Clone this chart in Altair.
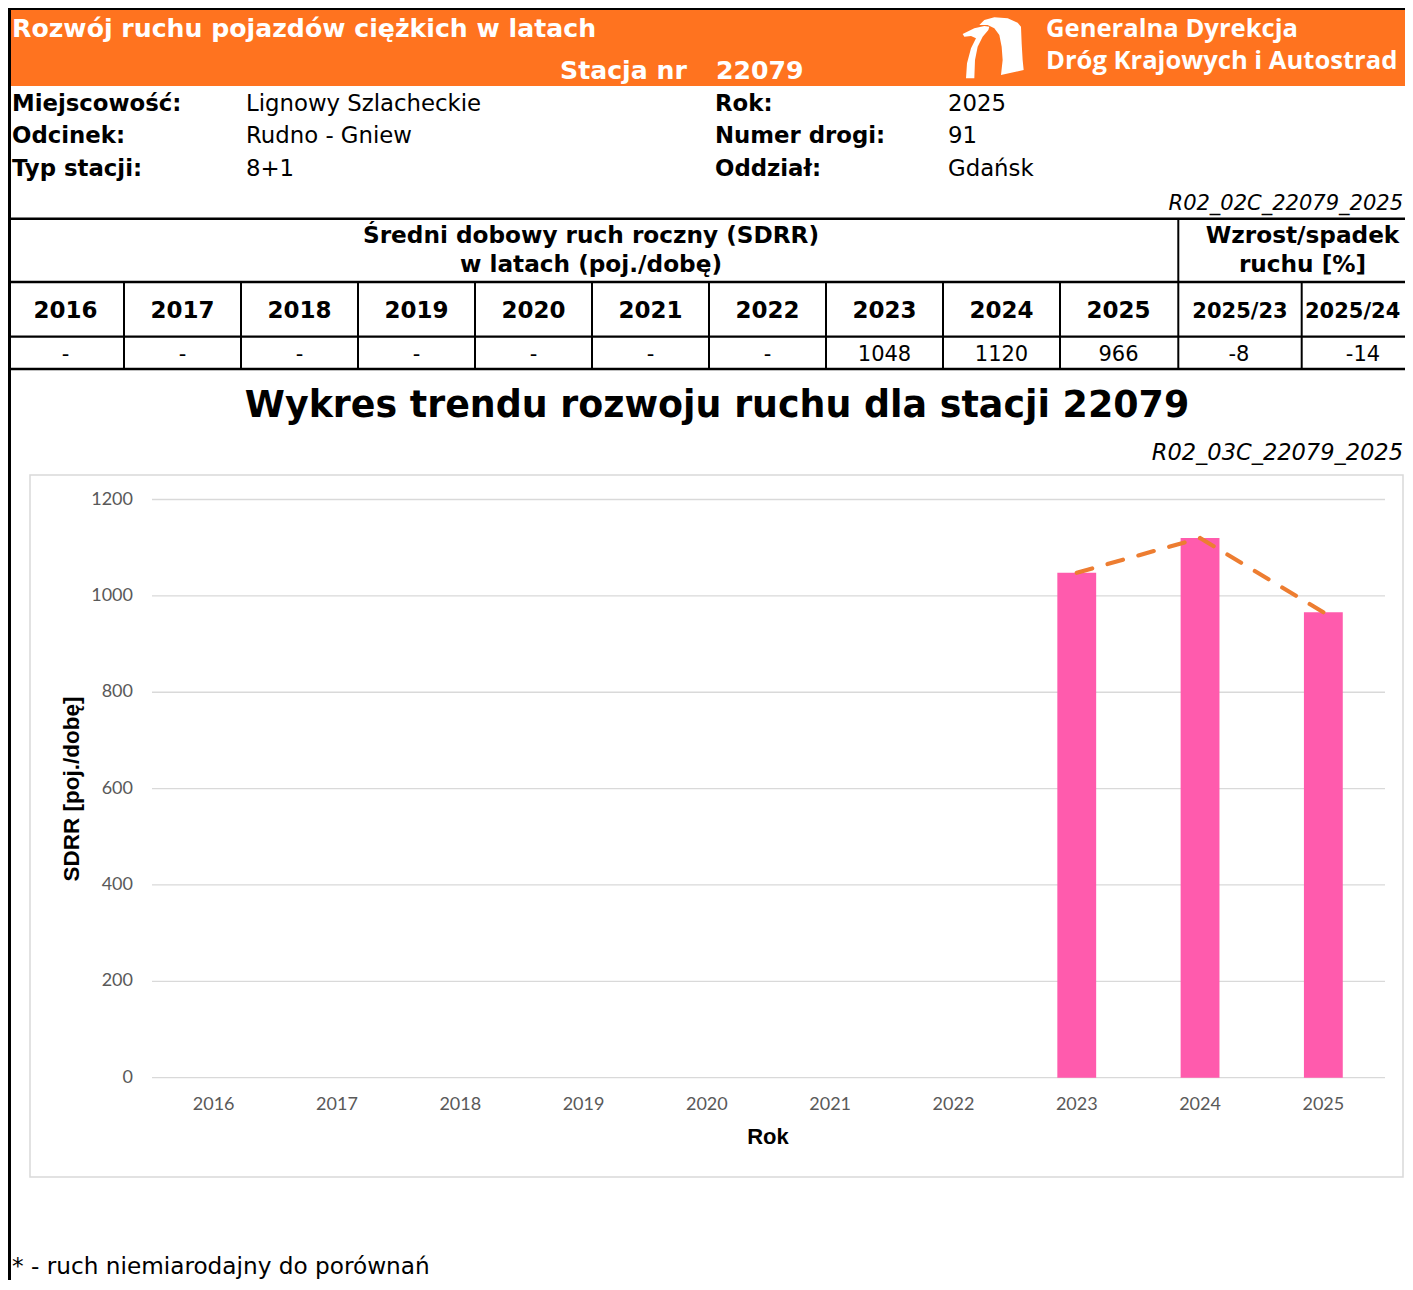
import altair as alt
import pandas as pd

# ---------------- data ----------------
years = ["2016", "2017", "2018", "2019", "2020", "2021", "2022", "2023", "2024", "2025"]
sdrr = [None, None, None, None, None, None, None, 1048, 1120, 966]
growth_cols = ["2025/23", "2025/24"]
growth_vals = [-8, -14]
y_ticks = [0, 200, 400, 600, 800, 1000, 1200]

header_title = "Rozwój ruchu pojazdów ciężkich w latach"
station_label = "Stacja nr"
station_no = "22079"
org_lines = ["Generalna Dyrekcja", "Dróg Krajowych i Autostrad"]
info_left_labels = ["Miejscowość:", "Odcinek:", "Typ stacji:"]
info_left_values = ["Lignowy Szlacheckie", "Rudno - Gniew", "8+1"]
info_right_labels = ["Rok:", "Numer drogi:", "Oddział:"]
info_right_values = ["2025", "91", "Gdańsk"]
table_code = "R02_02C_22079_2025"
table_head_1 = ["Średni dobowy ruch roczny (SDRR)", "w latach (poj./dobę)"]
table_head_2 = ["Wzrost/spadek", "ruchu [%]"]
chart_code = "R02_03C_22079_2025"
chart_title = "Wykres trendu rozwoju ruchu dla stacji 22079"
y_title = "SDRR [poj./dobę]"
x_title = "Rok"
footnote = "* - ruch niemiarodajny do porównań"

# ---------------- styles ----------------
W, H = 1397, 1272
ORANGE = "#FF731F"
PINK = "#FF5BAD"
LINE_OR = "#ED7D31"
GRID = "#D9D9D9"
TICK = "#595959"
VERD = "DejaVu Sans"
CAL = "Lato"
ARI = "Liberation Sans"

one = pd.DataFrame({"a": [0]})
layers = []


def txt(s, x, y, size, bold=False, color="black", align="left", font=VERD,
        italic=False, baseline="alphabetic", angle=0):
    kw = dict(text=s, align=align, baseline=baseline, font=font, fontSize=size,
              fontWeight="bold" if bold else "normal",
              fontStyle="italic" if italic else "normal", color=color)
    if angle:
        kw["angle"] = angle
    return alt.Chart(one).mark_text(**kw).encode(x=alt.value(x), y=alt.value(y))


def hline(y, x1, x2, w=2.5, color="black"):
    return alt.Chart(one).mark_rule(color=color, strokeWidth=w).encode(
        x=alt.value(x1), x2=alt.value(x2), y=alt.value(y))


def vline(x, y1, y2, w=2.0, color="black"):
    return alt.Chart(one).mark_rule(color=color, strokeWidth=w).encode(
        x=alt.value(x), y=alt.value(y1), y2=alt.value(y2))


# ---------------- header band ----------------
layers.append(alt.Chart(one).mark_rect(color=ORANGE).encode(
    x=alt.value(0), x2=alt.value(W), y=alt.value(0), y2=alt.value(78)))
layers.append(hline(1, 0, W, w=2))
layers.append(txt(header_title, 4, 28.7, 25.2, bold=True, color="white"))
layers.append(txt(station_label, 552, 71, 25.2, bold=True, color="white"))
layers.append(txt(station_no, 708, 71, 25.2, bold=True, color="white"))
layers.append(txt(org_lines[0], 1038, 29.3, 25.6, bold=True, color="white", font="Open Sans"))
layers.append(txt(org_lines[1], 1038, 61.3, 25.6, bold=True, color="white", font="Open Sans"))

logo_path = (
    "M -0.964 -0.422 L -0.599 -0.599 L -0.286 -0.672 L -0.130 -0.651 L -0.161 -0.547 "
    "L -0.339 -0.339 L -0.495 -0.026 L -0.578 0.391 L -0.599 0.964 L -0.859 0.964 "
    "L -0.828 0.495 L -0.703 0.026 L -0.547 -0.286 L -0.703 -0.359 L -0.911 -0.339 Z "
    "M -0.443 -0.703 L -0.286 -0.859 L 0.026 -0.943 L 0.443 -0.911 L 0.755 -0.776 "
    "L 0.859 -0.651 L 0.880 -0.130 L 0.911 0.391 L 0.943 0.703 L 0.234 0.859 "
    "L 0.286 0.391 L 0.255 -0.026 L 0.182 -0.391 L 0.026 -0.599 L -0.182 -0.703 Z"
)
layers.append(alt.Chart(one).mark_point(shape=logo_path, filled=True, color="white",
                                         opacity=1, size=4096, strokeWidth=0).encode(
    x=alt.value(985.5), y=alt.value(39.5)))

# ---------------- info rows ----------------
row_y = [103, 135.3, 167.7]
for i in range(3):
    layers.append(txt(info_left_labels[i], 4, row_y[i], 22.8, bold=True))
    layers.append(txt(info_left_values[i], 238, row_y[i], 22.8))
    layers.append(txt(info_right_labels[i], 707, row_y[i], 22.8, bold=True))
    layers.append(txt(info_right_values[i], 940, row_y[i], 22.8))
layers.append(txt(table_code, 1395, 202, 21, italic=True, align="right"))

# ---------------- table ----------------
TBL_L, TBL_R = -1, 1169
tscale = alt.Scale(domain=years, range=[TBL_L, TBL_R], paddingInner=0, paddingOuter=0)
gscale = alt.Scale(domain=growth_cols, range=[1169, 1417], paddingInner=0, paddingOuter=0)

layers.append(hline(210.7, 0, W, w=2.5))
layers.append(hline(274, 0, W, w=2.7))
layers.append(hline(328.7, 0, W, w=2.2))
layers.append(hline(361, 0, W, w=2.7))
step = (TBL_R - TBL_L) / len(years)
for k in range(1, len(years)):
    layers.append(vline(TBL_L + step * k, 274, 361))
layers.append(vline(1170.3, 210.7, 361))
layers.append(vline(1293.7, 274, 361))

layers.append(txt(table_head_1[0], 583, 235.3, 23.2, bold=True, align="center"))
layers.append(txt(table_head_1[1], 583, 263.7, 23.2, bold=True, align="center"))
layers.append(txt(table_head_2[0], 1294.5, 235.3, 23.2, bold=True, align="center"))
layers.append(txt(table_head_2[1], 1294.5, 263.7, 23.2, bold=True, align="center"))

tdf = pd.DataFrame({"year": years,
                    "label": ["-" if v is None else str(v) for v in sdrr]})
layers.append(alt.Chart(tdf).mark_text(font=VERD, fontSize=23, fontWeight="bold",
                                       align="center", baseline="alphabetic", color="black").encode(
    x=alt.X("year:N", scale=tscale, axis=None, bandPosition=0.5),
    y=alt.value(309.5), text="year:N"))
layers.append(alt.Chart(tdf).mark_text(font=VERD, fontSize=21, align="center",
                                       baseline="alphabetic", color="black").encode(
    x=alt.X("year:N", scale=tscale, axis=None, bandPosition=0.5),
    y=alt.value(353), text="label:N"))
gdf = pd.DataFrame({"col": growth_cols, "val": [str(v) for v in growth_vals]})
# growth headers: first centred in its cell, second kept inside the visible edge
layers.append(txt(growth_cols[0], 1232, 309.5, 21, bold=True, align="center"))
layers.append(txt(growth_cols[1], 1297, 309.5, 21, bold=True, align="left"))
layers.append(alt.Chart(gdf).mark_text(font=VERD, fontSize=21, align="center",
                                       baseline="alphabetic", color="black").encode(
    x=alt.X("col:N", scale=gscale, axis=None, bandPosition=0.5),
    y=alt.value(353), text="val:N"))

# ---------------- chart ----------------
layers.append(txt(chart_title, 709, 409, 36.4, bold=True, align="center"))
layers.append(txt(chart_code, 1395, 452, 22.5, italic=True, align="right"))
layers.append(alt.Chart(one).mark_rect(fill="white", stroke=GRID, strokeWidth=1.5).encode(
    x=alt.value(22), x2=alt.value(1395), y=alt.value(467), y2=alt.value(1169)))

PX0, PX1 = 144, 1377
PY0, PY1 = 1069.7, 491.5
xband = alt.Scale(domain=years, range=[PX0, PX1], paddingInner=0.685, paddingOuter=0.3425)
yscale = alt.Scale(domain=[0, 1200], range=[PY0, PY1], nice=False, zero=True)

tick_df = pd.DataFrame({"v": y_ticks})
layers.append(alt.Chart(tick_df).mark_rule(color=GRID, strokeWidth=1.3).encode(
    y=alt.Y("v:Q", scale=yscale, axis=None), x=alt.value(PX0), x2=alt.value(PX1)))
layers.append(alt.Chart(tick_df).mark_text(font=CAL, fontSize=18, color=TICK,
                                           align="right", baseline="middle").encode(
    y=alt.Y("v:Q", scale=yscale, axis=None), x=alt.value(125),
    text=alt.Text("v:Q", format="d")))

ydf = pd.DataFrame({"year": years})
layers.append(alt.Chart(ydf).mark_text(font=CAL, fontSize=18, color=TICK,
                                       align="center", baseline="alphabetic").encode(
    x=alt.X("year:N", scale=xband, axis=None, bandPosition=0.5),
    y=alt.value(1102), text="year:N"))

bdf = pd.DataFrame({"year": [y for y, v in zip(years, sdrr) if v is not None],
                    "sdrr": [v for v in sdrr if v is not None]})
layers.append(alt.Chart(bdf).mark_bar(color=PINK).encode(
    x=alt.X("year:N", scale=xband, axis=None),
    y=alt.Y("sdrr:Q", scale=yscale, axis=None)))
layers.append(alt.Chart(bdf).mark_line(color=LINE_OR, strokeWidth=4.2,
                                       strokeDash=[16, 16], strokeCap="round").encode(
    x=alt.X("year:N", scale=xband, axis=None, bandPosition=0.5),
    y=alt.Y("sdrr:Q", scale=yscale, axis=None)))

layers.append(txt(x_title, 760, 1136, 22, bold=True, align="center", font=ARI))
layers.append(txt(y_title, 64, 781, 22.5, bold=True, align="center", font=ARI,
                  baseline="middle", angle=270))

# ---------------- footer & borders ----------------
layers.append(txt(footnote, 4, 1266, 23.2))
layers.append(vline(1.5, 0, H, w=3))

chart = alt.layer(*layers).resolve_scale(x="independent", y="independent").properties(
    width=W, height=H, autosize=alt.AutoSizeParams(type="none"), padding=0,
    background="white"
).configure_view(strokeWidth=0)

chart.save("out.html", embed_options={"renderer": "svg", "actions": False})
